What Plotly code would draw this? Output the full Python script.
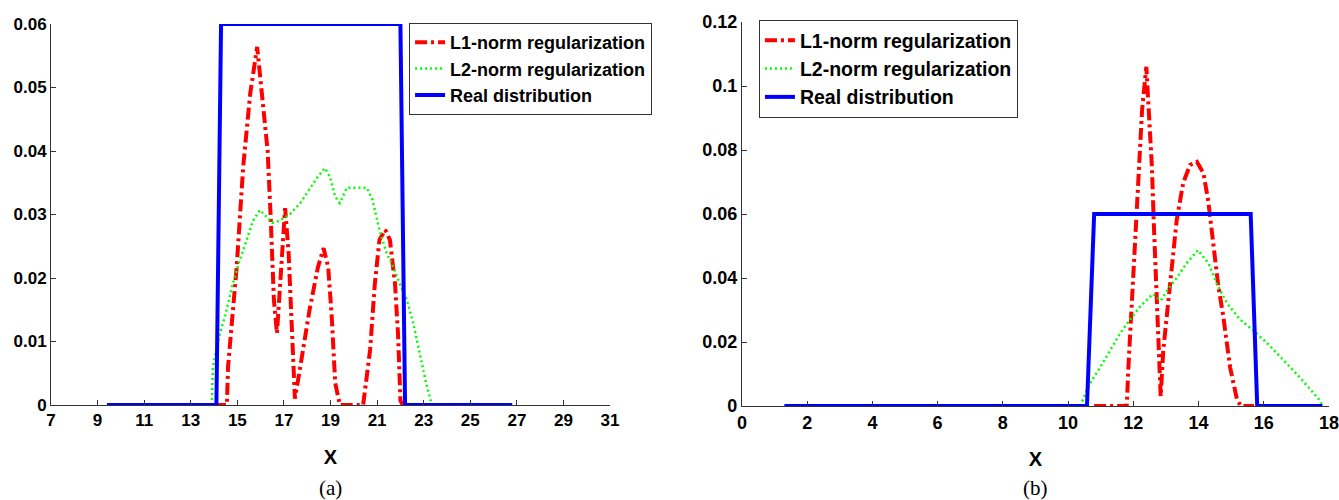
import plotly.graph_objects as go

# ---------------- data: panel (a) ----------------
a_real_x = [9.4, 14.1, 14.3, 22.0, 22.2, 26.8]
a_real_y = [0, 0, 0.06, 0.06, 0, 0]

a_l1_x = [14.0, 14.3, 14.55, 14.6, 14.97, 15.25, 15.55, 15.85, 16.1, 16.3, 16.43, 16.57, 16.7,
          16.9, 17.05, 17.2, 17.34, 17.47, 17.7, 18.1, 18.46, 18.7, 18.9, 19.05, 19.2, 19.4,
          20.4, 20.7, 20.9, 21.1, 21.35, 21.55, 21.77, 21.9, 22.0, 22.1]
a_l1_y = [0, 0, 0, 0.006, 0.0217, 0.0375, 0.049, 0.0564, 0.048, 0.040, 0.0296, 0.0165, 0.0113,
          0.0217, 0.031, 0.024, 0.011, 0.001, 0.006, 0.015, 0.0217, 0.0247, 0.0217, 0.014, 0.0035, 0.0,
          0.0, 0.0087, 0.019, 0.026, 0.0276, 0.026, 0.019, 0.011, 0.0007, 0]

a_l2_x = [13.9, 13.95, 14.25, 14.47, 14.8, 15.1, 15.4, 15.67, 15.97, 16.26, 16.5, 16.8, 17.25,
          17.7, 18.1, 18.46, 18.76, 18.97, 19.2, 19.4, 19.7, 20.56, 20.8, 21.1, 21.4, 21.7,
          21.98, 22.28, 22.55, 22.84, 23.1, 23.35]
a_l2_y = [0, 0.006, 0.0113, 0.014, 0.019, 0.0228, 0.026, 0.029, 0.0307, 0.0296, 0.0287, 0.029, 0.030,
          0.0318, 0.034, 0.036, 0.0373, 0.036, 0.0328, 0.0318, 0.0342, 0.0342, 0.0323, 0.0276, 0.024, 0.0217,
          0.019, 0.0165, 0.0129, 0.0082, 0.0035, 0]

# ---------------- data: panel (b) ----------------
b_real_x = [1.3, 10.58, 10.8, 15.6, 15.8, 17.8]
b_real_y = [0, 0, 0.06, 0.06, 0, 0]

b_l1_x = [10.8, 11.8, 11.85, 11.96, 12.06, 12.15, 12.27, 12.4, 12.5, 12.57, 12.64, 12.72, 12.8,
          12.84, 12.92, 13.02, 13.18, 13.33, 13.53, 13.74, 13.95, 14.15, 14.3, 14.45, 14.6,
          14.76, 14.97, 15.18, 15.3, 15.7]
b_l1_y = [0, 0, 0.012, 0.033, 0.054, 0.075, 0.0925, 0.106, 0.090, 0.075, 0.054, 0.033, 0.012,
          0.003, 0.0175, 0.028, 0.0435, 0.058, 0.0697, 0.0753, 0.0763, 0.0728, 0.064, 0.052, 0.038,
          0.028, 0.012, 0.002, 0, 0]

b_l2_x = [10.37, 10.67, 10.98, 11.29, 11.6, 11.9, 12.2, 12.6, 12.85, 13.1, 13.33, 13.64, 13.98,
          14.3, 14.57, 14.88, 15.28, 15.67, 16.1, 16.6, 17.1, 17.7, 17.8]
b_l2_y = [0, 0.007, 0.012, 0.0175, 0.0228, 0.027, 0.031, 0.035, 0.033, 0.037, 0.040, 0.0447, 0.0487,
          0.0447, 0.038, 0.032, 0.027, 0.0237, 0.0197, 0.0144, 0.009, 0.002, 0]

a_xticks = [7, 9, 11, 13, 15, 17, 19, 21, 23, 25, 27, 29, 31]
a_yticks = [0, 0.01, 0.02, 0.03, 0.04, 0.05, 0.06]
b_xticks = [0, 2, 4, 6, 8, 10, 12, 14, 16, 18]
b_yticks = [0, 0.02, 0.04, 0.06, 0.08, 0.1, 0.12]

names = ["L1-norm regularization", "L2-norm regularization", "Real distribution"]

RED = "#ff0000"
GREEN = "#00ff00"
BLUE = "#0000ff"

fig = go.Figure()

def add_panel(xa, ya, leg, l1x, l1y, l2x, l2y, rx, ry):
    fig.add_trace(go.Scatter(x=l1x, y=l1y, mode="lines", name=names[0], xaxis=xa, yaxis=ya, legend=leg,
                             line=dict(color=RED, width=4, dash="12px,4px,3px,4px")))
    fig.add_trace(go.Scatter(x=l2x, y=l2y, mode="lines", name=names[1], xaxis=xa, yaxis=ya, legend=leg,
                             line=dict(color=GREEN, width=2.5, dash="2px,3px")))
    fig.add_trace(go.Scatter(x=rx, y=ry, mode="lines", name=names[2], xaxis=xa, yaxis=ya, legend=leg,
                             line=dict(color=BLUE, width=4)))

add_panel("x", "y", "legend", a_l1_x, a_l1_y, a_l2_x, a_l2_y, a_real_x, a_real_y)
add_panel("x2", "y2", "legend2", b_l1_x, b_l1_y, b_l2_x, b_l2_y, b_real_x, b_real_y)

FAM = "Liberation Sans, Arial, sans-serif"
def axis_common(size):
    return dict(showline=True, linecolor="#333333", linewidth=1, ticks="inside", ticklen=5,
                tickcolor="#333333", showgrid=False, zeroline=False,
                tickfont=dict(family=FAM, size=size, color="black", weight="bold"),
                automargin=False)

title_font = dict(family=FAM, size=20, color="black", weight="bold")

fig.update_layout(
    width=1339, height=500,
    margin=dict(l=0, r=0, t=0, b=0, autoexpand=False),
    paper_bgcolor="white", plot_bgcolor="white",
    showlegend=True,
    xaxis=dict(domain=[0.0381, 0.4556], range=[7, 31], tickvals=a_xticks, anchor="y",
               title=dict(text="X", font=title_font, standoff=20), **axis_common(17)),
    yaxis=dict(domain=[0.19, 0.952], range=[0, 0.06], tickvals=a_yticks, anchor="x", **axis_common(17)),
    xaxis2=dict(domain=[0.5541, 0.9925], range=[0, 18], tickvals=b_xticks, anchor="y2",
                title=dict(text="X", font=title_font, standoff=20), **axis_common(18)),
    yaxis2=dict(domain=[0.188, 0.956], range=[0, 0.12], tickvals=b_yticks, anchor="x2", **axis_common(18)),
    legend=dict(x=0.3055, y=0.954, xanchor="left", yanchor="top", bgcolor="white",
                bordercolor="#333333", borderwidth=1, tracegroupgap=0,
                font=dict(family=FAM, size=18, color="black", weight="bold")),
    legend2=dict(x=0.5668, y=0.96, xanchor="left", yanchor="top", bgcolor="white",
                 bordercolor="#333333", borderwidth=1, tracegroupgap=0,
                 font=dict(family=FAM, size=19.5, color="black", weight="bold")),
    annotations=[
        dict(text="(a)", x=0.2468, y=0.024, xref="paper", yref="paper", showarrow=False,
             xanchor="center", yanchor="middle",
             font=dict(family="Liberation Serif, Times New Roman, serif", size=21, color="black")),
        dict(text="(b)", x=0.7733, y=0.024, xref="paper", yref="paper", showarrow=False,
             xanchor="center", yanchor="middle",
             font=dict(family="Liberation Serif, Times New Roman, serif", size=21, color="black")),
    ],
)

fig.write_html("out.html", config={"displayModeBar": False},
               post_script="document.body.style.margin='0';document.body.style.overflow='hidden';")
